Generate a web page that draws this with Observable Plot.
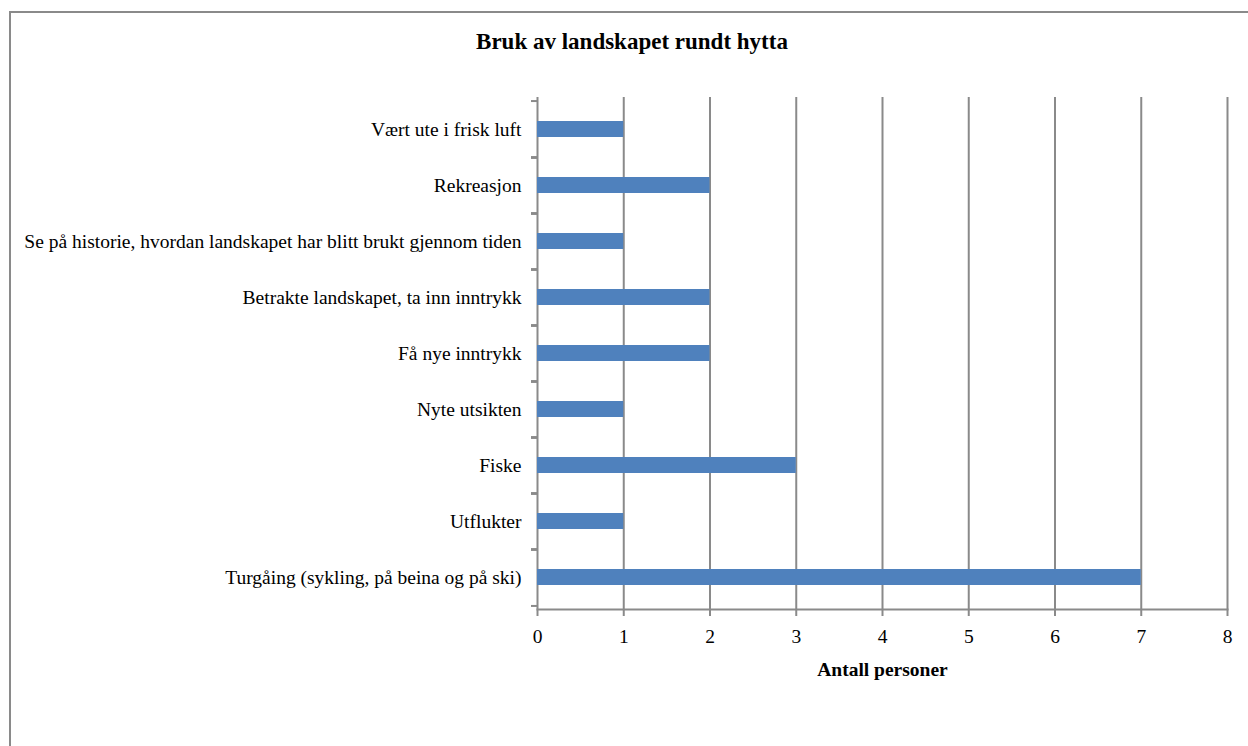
<!DOCTYPE html>
<html>
<head>
<meta charset="utf-8">
<script src="https://cdn.jsdelivr.net/npm/d3@7"></script>
<script src="https://cdn.jsdelivr.net/npm/@observablehq/plot@0.6"></script>
<style>
  html, body { margin: 0; padding: 0; background: #fff; overflow: hidden; }
  #wrap { position: relative; width: 1248px; height: 746px; overflow: hidden; font-family: "Liberation Serif", "Times New Roman", serif; }
  #border { position: absolute; left: 9px; top: 11px; width: 1300px; height: 800px; border: 2px solid #8a8a8a; box-sizing: border-box; }
  #title { position: absolute; left: 0; width: 1264px; top: 28px; text-align: center; font-weight: bold; font-size: 23px; line-height: 28px; color: #000; }
  #chart { position: absolute; left: 0; top: 0; }
</style>
</head>
<body>
<div id="wrap">
  <div id="border"></div>
  <div id="chart"></div>
  <div id="title">Bruk av landskapet rundt hytta</div>
</div>
<script>
const categories = [
  "Vært ute i frisk luft",
  "Rekreasjon",
  "Se på historie, hvordan landskapet har blitt brukt gjennom tiden",
  "Betrakte landskapet, ta inn inntrykk",
  "Få nye inntrykk",
  "Nyte utsikten",
  "Fiske",
  "Utflukter",
  "Turgåing (sykling, på beina og på ski)"
];
const values = [1, 2, 1, 2, 2, 1, 3, 1, 7];
const xTicks = [0, 1, 2, 3, 4, 5, 6, 7, 8];
const xLabel = "Antall personer";

const data = categories.map((c, i) => ({category: c, value: values[i]}));

const W = 1248, H = 746;
const mTop = 97, mBottom = 137, mLeft = 537, mRight = 21;
const step = (H - mTop - mBottom) / categories.length;
const gray = "#8a8a8a";
const fs = 19.5;

const chart = Plot.plot({
  width: W,
  height: H,
  marginTop: mTop,
  marginBottom: mBottom,
  marginLeft: mLeft,
  marginRight: mRight,
  style: {fontFamily: "'Liberation Serif', 'Times New Roman', serif", fontSize: fs + "px", color: "#000", background: "transparent"},
  x: {domain: [0, 8], ticks: xTicks},
  y: {domain: categories, paddingInner: 0.72, paddingOuter: 0.36},
  marks: [
    Plot.ruleX(xTicks, {stroke: gray, strokeWidth: 2, strokeOpacity: 1}),
    Plot.barX(data, {y: "category", x: "value", fill: "#4F81BD"}),
    Plot.frame({anchor: "bottom", stroke: gray, strokeWidth: 2, strokeOpacity: 1}),
    Plot.axisX({ticks: xTicks, tickSize: 7, tickPadding: 13, stroke: gray, strokeWidth: 2, strokeOpacity: 1, fill: "#000", fontSize: fs, label: null}),
    Plot.axisY({tickSize: 6, tickFormat: () => "", dy: -step / 2, stroke: gray, strokeWidth: 2, strokeOpacity: 1, label: null}),
    Plot.axisY({tickSize: 6, tickFormat: () => "", dy: step / 2, stroke: gray, strokeWidth: 2, strokeOpacity: 1, label: null}),
    Plot.axisY({tickSize: 0, tickPadding: 16, fill: "#000", fontSize: fs, label: null}),
    Plot.text([xLabel], {frameAnchor: "bottom", dy: 66, text: d => d, fontWeight: "bold", fontSize: fs, fill: "#000"})
  ]
});
document.getElementById("chart").appendChild(chart);
</script>
</body>
</html>
